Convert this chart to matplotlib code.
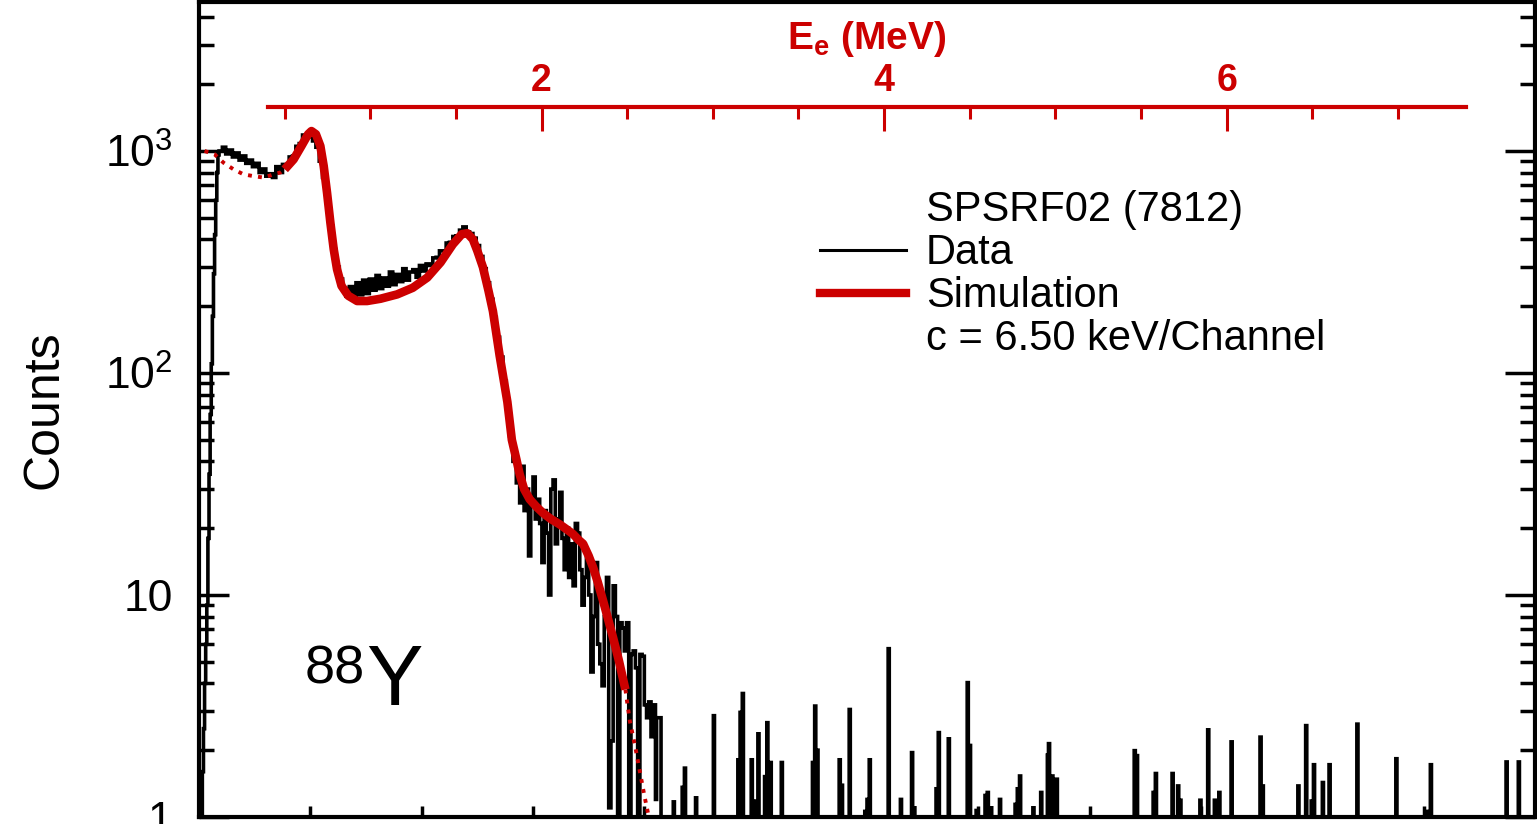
import numpy as np
import matplotlib
matplotlib.use("Agg")
import matplotlib.pyplot as plt
from matplotlib.lines import Line2D
from matplotlib.ticker import FixedLocator, NullFormatter, LogLocator

plt.rcParams['font.family'] = ['Liberation Sans', 'DejaVu Sans']
plt.rcParams['mathtext.fontset'] = 'custom'
plt.rcParams['mathtext.rm'] = 'Liberation Sans'
plt.rcParams['mathtext.it'] = 'Liberation Sans:italic'
plt.rcParams['mathtext.bf'] = 'Liberation Sans:bold'

RED = '#cc0000'
KEV_PER_CH = 6.50
N_CH = 1200

# measured spectrum, bins given by left edge (channel) and counts
data_ch = [0, 1, 2, 3, 4, 5, 6, 7, 8, 9, 10, 11, 12, 13, 14, 15, 16, 17,
           18, 21, 24, 27, 30, 33, 36, 39, 42, 45, 48, 51, 54, 57, 60, 63, 66, 69,
           72, 75, 78, 81, 84, 87, 90, 93, 96, 99, 102, 105, 108, 111, 114, 117,
           120, 123, 126, 129, 132, 135, 138, 141, 144, 147, 150, 153, 156, 159,
           162, 165, 168, 171, 174, 177, 180, 183, 186, 189, 192, 195, 198, 201,
           204, 207, 210, 213, 216, 219, 222, 225, 228, 231, 234, 237, 240, 243,
           246, 249, 252, 255, 258, 261, 264, 267, 270, 273, 276, 279, 282,
           285, 288, 290, 292, 294, 296, 298, 300, 302, 304, 306, 308, 310, 312,
           314, 316, 318, 320, 322, 324, 326, 328, 330, 332, 334, 336, 338, 340,
           342, 344, 346, 348, 350, 352, 354, 356, 358, 360, 362, 364, 366, 368,
           370, 372, 374, 376, 378, 380, 382, 384, 386, 388, 390, 392, 394, 396,
           398, 400, 402, 404, 406, 408, 410, 411]
data_counts = [0, 0, 1.0, 1.6, 2.5, 4, 6, 9, 18, 35, 65, 110, 180, 280, 420, 600, 800, 960,
               1000, 1040, 970, 1010, 940, 980, 910, 950, 880, 910, 850, 880, 800, 830, 770, 790, 760, 850,
               800, 870, 860, 940, 950, 1050, 1080, 1180, 1160, 1200, 1110, 1040, 900, 760, 600, 460,
               360, 300, 265, 240, 222, 245, 215, 255, 225, 262, 228, 265, 236, 275,
               240, 268, 246, 285, 250, 278, 258, 295, 262, 285, 292, 270, 305, 288,
               310, 305, 330, 332, 355, 355, 385, 388, 412, 415, 440, 455, 432, 425,
               405, 375, 335, 295, 255, 215, 178, 145, 118, 92, 70, 52, 40,
               32, 26, 38, 24, 30, 15, 28, 34, 22, 27, 21, 14, 24, 19,
               10, 30, 33, 17, 22, 29, 18, 13, 20, 12, 17, 11, 21, 19,
               13, 9, 12, 15, 10, 4.5, 8, 14, 6, 4.9, 3.9, 8, 12, 1.1,
               2.2, 11, 8, 1, 7.5, 7.1, 5.6, 7.5, 0, 5.4, 5.6, 4.7, 1, 5.4,
               5.3, 3.2, 2.8, 3.3, 2.3, 3.2, 1.2, 2.8]
data_end = 415

# single-channel counts in the high-energy tail
tail_ch = [426, 434, 436, 446, 462, 484, 486, 488, 496, 498, 502, 508, 510, 513, 523,
           551, 553, 555, 575, 577, 584, 598, 600, 602, 619, 630, 640, 642, 662, 664,
           673, 690, 692, 698, 706, 708, 711, 719, 733, 735, 737, 749, 756, 762, 763,
           766, 768, 770, 840, 842, 857, 859, 874, 879, 881, 899, 906, 912, 916, 927,
           953, 955, 987, 994, 999, 1001, 1009, 1015, 1040, 1075, 1102, 1106, 1174, 1185]
tail_counts = [1.17, 1.36, 1.66, 1.22, 2.86, 1.81, 2.96, 3.6, 1.81, 1.18, 2.37, 1.52, 2.66, 1.76, 1.76,
               1.76, 3.16, 2.0, 1.81, 1.39, 3.05, 1.06, 1.2, 1.81, 5.73, 1.2, 1.95, 1.1, 1.34, 2.4,
               2.25, 4.03, 2.1, 1.07, 1.25, 1.29, 1.1, 1.2, 1.14, 1.34, 1.53, 1.1, 1.29, 1.9, 2.14,
               1.53, 1.35, 1.48, 1.99, 1.89, 1.29, 1.57, 1.57, 1.38, 1.19, 1.19, 2.47, 1.19, 1.29, 2.18,
               2.29, 1.38, 1.38, 2.58, 1.18, 1.72, 1.43, 1.72, 2.62, 1.83, 1.06, 1.72, 1.77, 1.77]

# simulated response
sim_ch = [5, 14, 22, 31, 40, 48, 58, 67, 73, 77, 85, 92, 98, 101, 105, 109, 112, 115,
          118, 121, 124, 128, 134, 142, 151, 163, 178, 192, 205, 217, 228, 236, 241,
          246, 250, 255, 260, 264, 270, 277, 281, 285, 288, 292, 297, 303, 309, 316,
          324, 330, 336, 341, 345, 350, 354, 358, 363, 368, 372, 377, 383, 387, 392,
          396, 400, 404, 406]
sim_counts = [1000, 966, 886, 827, 785, 772, 759, 785, 800, 827, 917, 1053, 1190, 1230, 1190, 1053, 856, 649,
              476, 361, 293, 247, 223, 211, 211, 216, 226, 242, 269, 315, 380, 422, 426,
              400, 355, 300, 235, 190, 120, 74, 50, 41, 35, 30, 27, 25, 23.4, 22,
              20.8, 19.8, 18.8, 17.7, 17, 15, 13.3, 11.5, 9.4, 7.6, 6.4, 5.1, 3.75, 2.7, 2.05,
              1.6, 1.25, 1.0, 0.9]
sim_solid_from = 77
sim_solid_to = 383

assert len(data_ch) == len(data_counts)
assert len(tail_ch) == len(tail_counts)
assert len(sim_ch) == len(sim_counts)

counts = np.zeros(N_CH)
edges = list(data_ch) + [data_end]
for lo, hi, c in zip(edges[:-1], edges[1:], data_counts):
    counts[lo:hi] = c
for ch, c in zip(tail_ch, tail_counts):
    counts[ch] = c

fig = plt.figure(figsize=(15.37, 8.24), dpi=100)
ax = fig.add_axes([199 / 1537, 7 / 824, 1336 / 1537, 815 / 824])

# empty bins are pushed below the axis so they sit on the bottom spine
ax.stairs(np.clip(counts, 0.3, None), np.arange(N_CH + 1), color='k', lw=2.6, baseline=None, zorder=2)

sim_ch = np.array(sim_ch)
sim_counts = np.array(sim_counts)
left = sim_ch <= sim_solid_from
mid = (sim_ch >= sim_solid_from) & (sim_ch <= sim_solid_to)
right = sim_ch >= sim_solid_to
dots = (0, (1.0, 1.6))
ax.plot(sim_ch[left], sim_counts[left], color=RED, lw=2.8, ls=dots, zorder=3)
ax.plot(sim_ch[right], sim_counts[right], color=RED, lw=2.8, ls=dots, zorder=3)
ax.plot(sim_ch[mid], sim_counts[mid], color=RED, lw=6.2, solid_capstyle='butt', zorder=3)

ax.set_yscale('log')
ax.set_xlim(0, N_CH)
ax.set_ylim(1, 4690)

for s in ax.spines.values():
    s.set_linewidth(3)

ax.set_yticks([1, 10, 100, 1000], labels=['1', '10', r'$10^{2}$', r'$10^{3}$'])
ax.yaxis.set_minor_locator(LogLocator(base=10, subs=np.arange(2, 10)))
ax.yaxis.set_minor_formatter(NullFormatter())
ax.xaxis.set_major_locator(FixedLocator(np.arange(100, N_CH, 100)))
ax.tick_params(axis='y', which='both', direction='in', left=True, right=True, width=2.5,
               labelsize=32, pad=19)
ax.tick_params(axis='y', which='major', length=21.5)
ax.tick_params(axis='y', which='minor', length=10.8)
ax.tick_params(axis='x', which='both', direction='in', bottom=True, top=False, length=8,
               width=2.5, labelbottom=False)

ax.set_ylabel('Counts', fontsize=36)
ax.yaxis.set_label_coords(-0.0988, 0.5)

# electron energy scale drawn inside the frame
sec = ax.secondary_xaxis(0.871, functions=(lambda c: c * KEV_PER_CH / 1000.0,
                                           lambda e: e * 1000.0 / KEV_PER_CH))
sec.spines['bottom'].set_visible(False)
sec.spines['top'].set_color(RED)
sec.spines['top'].set_linewidth(3)
sec.spines['top'].set_bounds(0.4, 7.4)
sec.set_xticks([2, 4, 6])
sec.xaxis.set_minor_locator(FixedLocator([0.5, 1, 1.5, 2.5, 3, 3.5, 4.5, 5, 5.5, 6.5, 7]))
sec.tick_params(which='both', direction='in', colors=RED, width=2.2, labelsize=27, pad=6)
sec.tick_params(which='major', length=17)
sec.tick_params(which='minor', length=8.6)
for lbl in sec.get_xticklabels():
    lbl.set_fontweight('bold')
sec.set_xlabel(r'$\mathbf{E_e}$ (MeV)', color=RED, fontsize=28, fontweight='bold', labelpad=10)

blank = Line2D([], [], color='none')
h_data = Line2D([], [], color='k', lw=2.2)
h_sim = Line2D([], [], color=RED, lw=6)
ax.legend([blank, h_data, h_sim, blank],
          ['SPSRF02 (7812)', 'Data', 'Simulation', f'c = {KEV_PER_CH:.2f} keV/Channel'],
          loc='upper left', bbox_to_anchor=(0.465, 0.769), frameon=False, fontsize=30,
          handlelength=2.06, handletextpad=0.48, labelspacing=0.07,
          borderpad=0, borderaxespad=0)

ax.text(0.0793, 0.164, '88', transform=ax.transAxes, fontsize=39, ha='left', va='baseline')
ax.text(0.125, 0.137, 'Y', transform=ax.transAxes, fontsize=61, ha='left', va='baseline')

fig.savefig('out.png', dpi=100)
